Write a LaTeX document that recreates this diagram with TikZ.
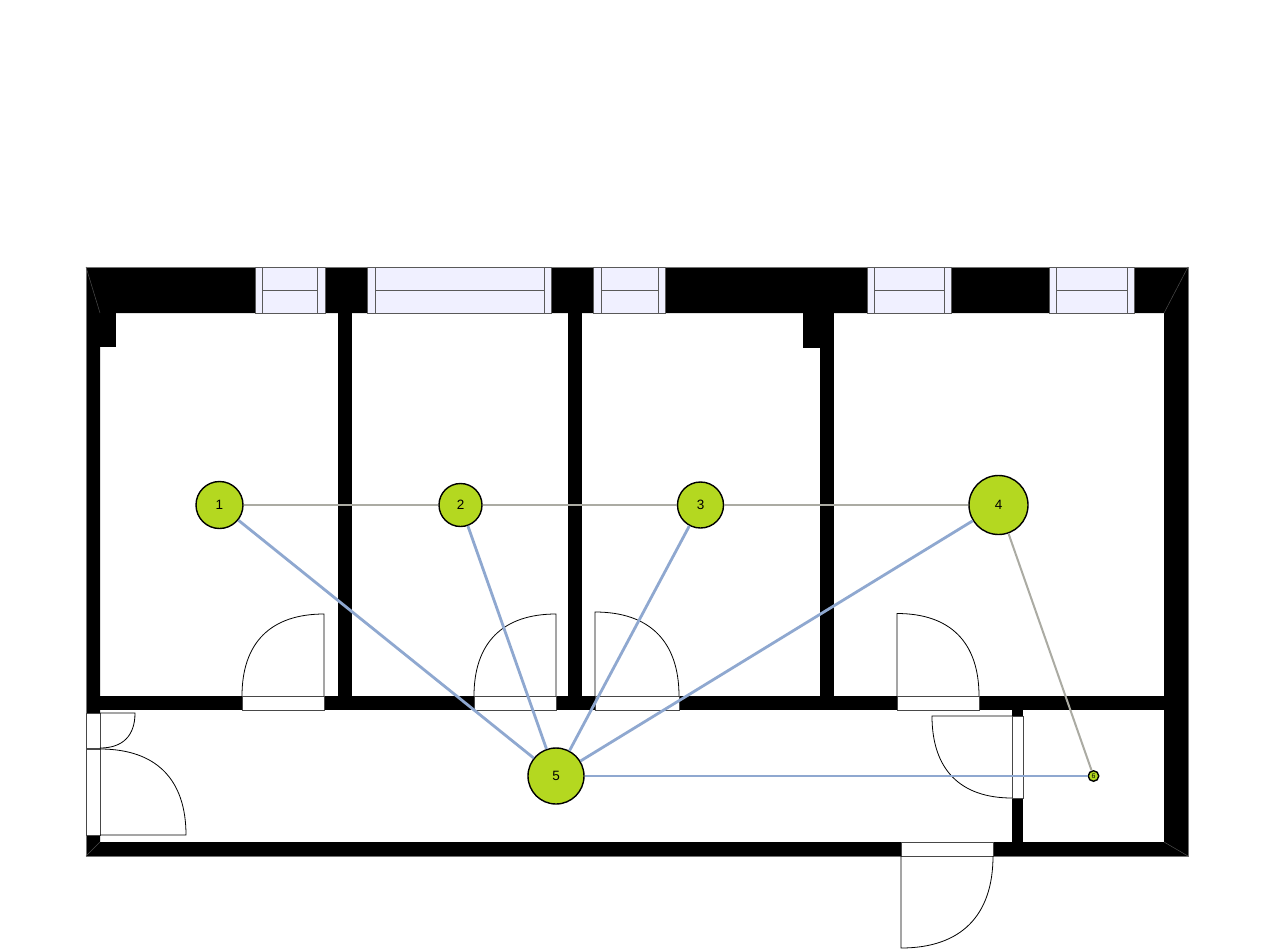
\documentclass[tikz,border=0pt]{standalone}
\usepackage{fontspec}
\setmainfont{Liberation Sans}
\definecolor{lime}{HTML}{B4D820}
\definecolor{blueedge}{HTML}{8FA8D0}
\definecolor{grayedge}{HTML}{ABABA3}
\definecolor{glass}{HTML}{F0F0FF}
\tikzset{
 wall/.style={fill=black},
 seam/.style={draw=black!70,line width=0.5pt},
 edgeline/.style={draw=black!55,line width=0.7pt},
 win/.style={draw=black!65,line width=0.9pt,fill=glass},
 doorleaf/.style={draw=black,line width=0.8pt},
 doorframe/.style={draw=black!72,line width=1pt,fill=white},
 sensor/.style={circle,draw=black,line width=1.4pt,fill=lime,inner sep=0pt,text=black,font=\fontsize{13.5}{13.5}\selectfont},
 linkb/.style={draw=blueedge,line width=2.8pt},
 linkg/.style={draw=grayedge,line width=2pt}
}
\begin{document}
\begin{tikzpicture}[x=1pt,y=-1pt]
\useasboundingbox (0,0) rectangle (1287,948);
\fill[white] (0,0) rectangle (1287,948);
% walls
\fill[wall,even odd rule] (86,267) rectangle (1188,856) (100,313) rectangle (1164,842);
\path[edgeline] (86,267) rectangle (1188,856);
\fill[wall] (100,313) rectangle (116,347);
\fill[wall] (803,313) rectangle (820,348);
\fill[wall] (338,313) rectangle (352,696);
\fill[wall] (568,313) rectangle (582,696);
\fill[wall] (820,313) rectangle (834,696);
\fill[wall] (100,696) rectangle (1164,710);
\fill[wall] (1012,710) rectangle (1023,842);
% corner seams
\path[seam] (86,267) -- (100,313);
\path[seam] (1188,267) -- (1164,313);
\path[seam] (86,856) -- (100,842);
\path[seam] (1188,856) -- (1164,842);
% windows
\foreach \a/\b/\c/\d in {255.5/262.5/317.5/325.5,367.5/375/544/551,593.5/601/658/665,867/874/944/951,1049/1056/1127/1134}{
 \path[win] (\a,267) rectangle (\d,313);
 \path[win] (\b,267) -- (\b,313) (\c,267) -- (\c,313) (\b,290) -- (\c,290);
}
% doors
\foreach \a/\b in {242/324,474/556,595/679,897/979}{\path[doorframe] (\a,696) rectangle (\b,710);}
\path[doorframe] (86,713) rectangle (100,748);
\path[doorframe] (86,749) rectangle (100,835);
\path[doorframe] (1012,716) rectangle (1023,798);
\path[doorframe] (901,842) rectangle (993,856);
\draw[doorleaf] (324,696) -- (324,614) .. controls (270.7,614) and (242,642.7) .. (242,696);
\draw[doorleaf] (556,696) -- (556,614) .. controls (502.7,614) and (474,642.7) .. (474,696);
\draw[doorleaf] (595,696) -- (595,612) .. controls (649.6,612) and (679,641.4) .. (679,696);
\draw[doorleaf] (897,696) -- (897,613.5) .. controls (950.3,613.5) and (979,642.3) .. (979,696);
\draw[doorleaf] (100,713) -- (135,713) .. controls (135,735.75) and (122.75,748) .. (100,748);
\draw[doorleaf] (100,835) -- (186,835) .. controls (186,779.1) and (155.9,749) .. (100,749);
\draw[doorleaf] (1012,716) -- (932,716) .. controls (932,769.3) and (960,798) .. (1012,798);
\draw[doorleaf] (901,856) -- (901,948) .. controls (960.8,948) and (993,915.8) .. (993,856);
% sensors
\node[sensor,minimum size=47pt] (n1) at (219.5,505) {1};
\node[sensor,minimum size=43pt] (n2) at (460.5,505) {2};
\node[sensor,minimum size=46pt] (n3) at (700.5,505) {3};
\node[sensor,minimum size=59pt] (n4) at (998.5,505) {4};
\node[sensor,minimum size=56pt] (n5) at (556,776) {5};
\node[sensor,minimum size=10.5pt,font=\fontsize{7}{7}\selectfont] (n6) at (1093.5,776) {6};
% links
\path[linkg] (n1) -- (n2);
\path[linkg] (n2) -- (n3);
\path[linkg] (n3) -- (n4);
\path[linkg] (n4) -- (n6);
\path[linkb] (n1) -- (n5);
\path[linkb] (n2) -- (n5);
\path[linkb] (n3) -- (n5);
\path[linkb] (n4) -- (n5);
\path[linkb] (n5) -- (n6);
\end{tikzpicture}
\end{document}
